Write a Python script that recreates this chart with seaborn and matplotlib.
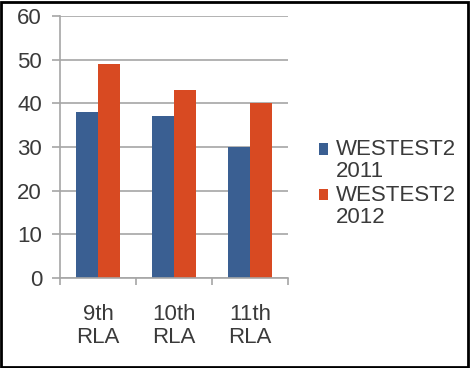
import pandas as pd
import matplotlib
matplotlib.use("Agg")
import matplotlib.pyplot as plt
import seaborn as sns

# data
grades = ["9th\nRLA", "10th\nRLA", "11th\nRLA"]
series = ["WESTEST2\n2011", "WESTEST2\n2012"]
scores_2011 = [38, 37, 30]
scores_2012 = [49, 43, 40]

df = pd.DataFrame({
    "Grade": grades * 2,
    "Series": [series[0]] * 3 + [series[1]] * 3,
    "Score": scores_2011 + scores_2012,
})

sns.set_style("white")
plt.rcParams['font.family'] = ['Liberation Sans', 'DejaVu Sans']

fig = plt.figure(figsize=(4.7, 3.68), dpi=100)
ax = fig.add_axes([0.128, 0.2446, 0.485, 0.712])

sns.barplot(df, x="Grade", y="Score", hue="Series", ax=ax,
            palette=["#3a5f92", "#d84a22"], width=0.57, saturation=1, linewidth=0)

ax.set_ylim(0, 60)
ax.set_yticks(range(0, 61, 10))
ax.yaxis.grid(True, color="#a6a6a6", linewidth=1.2)
ax.set_axisbelow(True)
ax.set_xlabel("")
ax.set_ylabel("")
for s in ["top", "right"]:
    ax.spines[s].set_visible(False)
ax.spines["left"].set_color("#a6a6a6")
ax.spines["bottom"].set_color("#a6a6a6")
ax.spines["left"].set_linewidth(1.2)
ax.spines["bottom"].set_linewidth(1.2)

# ticks on the x axis sit between categories
ax.set_xticks([-0.5, 0.5, 1.5, 2.5], minor=True)
ax.tick_params(axis="x", which="minor", length=5, color="#a6a6a6", width=1.2, direction="out", bottom=True)
ax.tick_params(axis="x", which="major", length=0, labelsize=16, pad=19, labelcolor="#3a3a3a")
ax.tick_params(axis="y", length=6, color="#a6a6a6", width=1.2, left=True, labelsize=16, labelcolor="#3a3a3a", pad=7)
ax.set_xlim(-0.5, 2.5)
for t in ax.get_xticklabels():
    t.set_linespacing(1.1)

leg = ax.legend(loc="upper left", bbox_to_anchor=(0.637, 0.677), bbox_transform=fig.transFigure,
                frameon=False, fontsize=16, handlelength=0.4, handleheight=0.4, handletextpad=0.35,
                labelspacing=0.1, labelcolor="#3a3a3a")
for t in leg.get_texts():
    t.set_linespacing(1.1)
# square sits next to the first line of each label
for h in leg.legend_handles:
    h.set_y(h.get_y() + 8.5)

fig.patches.append(plt.Rectangle((0.003, 0.004), 0.992, 0.99, transform=fig.transFigure,
                                 fill=False, edgecolor="black", linewidth=2))

fig.savefig("out.png", dpi=100)
